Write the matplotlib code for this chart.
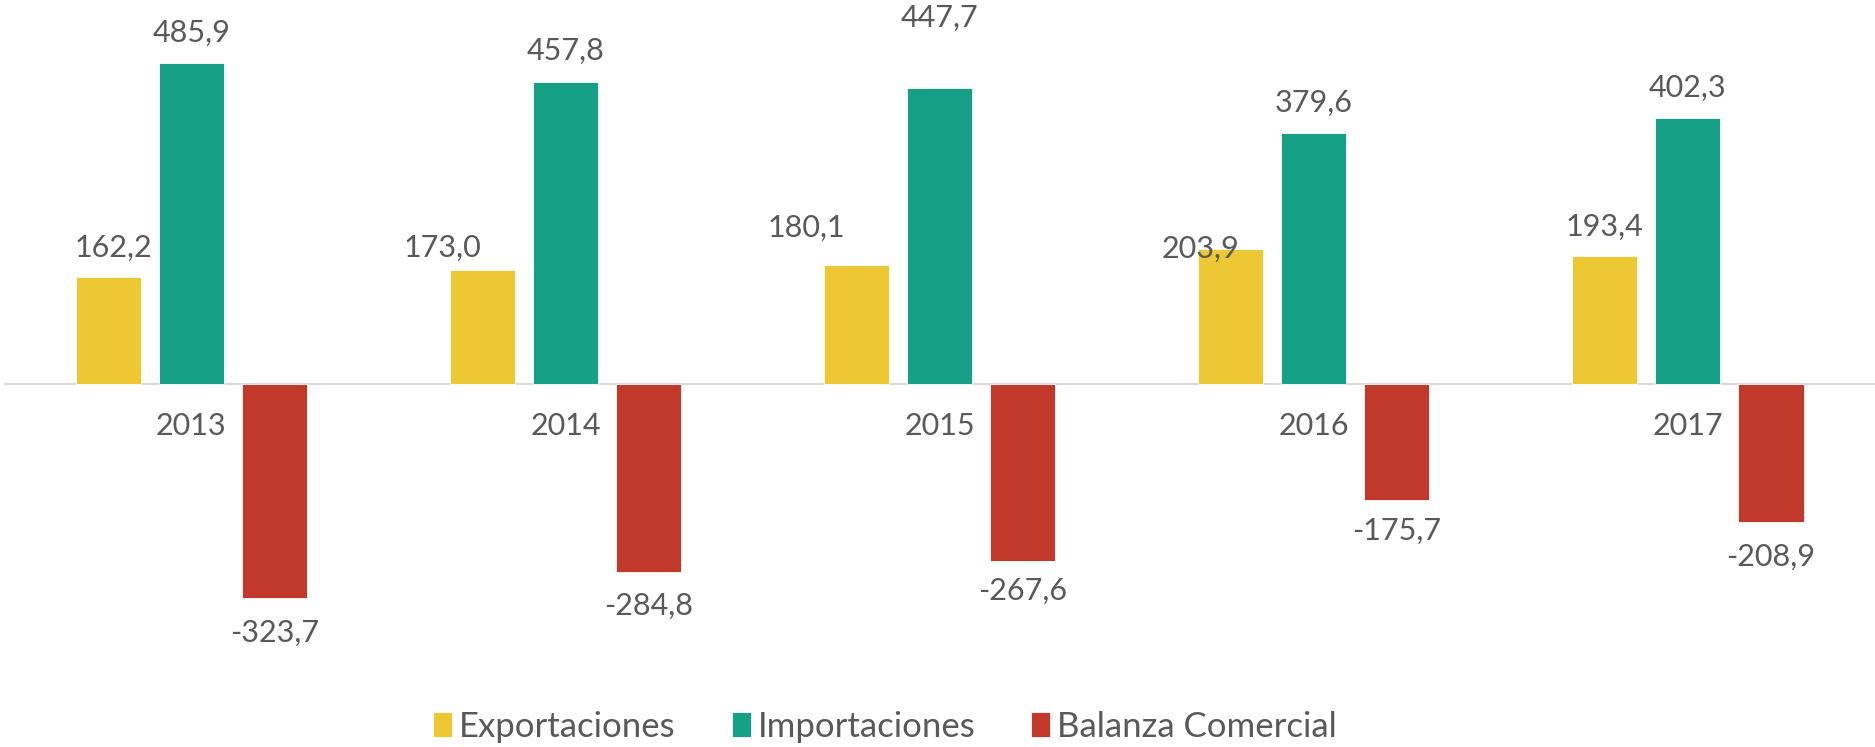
import numpy as np
import matplotlib
matplotlib.use("Agg")
import matplotlib.pyplot as plt

years = ["2013", "2014", "2015", "2016", "2017"]
exportaciones = [162.2, 173.0, 180.1, 203.9, 193.4]
importaciones = [485.9, 457.8, 447.7, 379.6, 402.3]
balanza = [-323.7, -284.8, -267.6, -175.7, -208.9]

series_names = ["Exportaciones", "Importaciones", "Balanza Comercial"]
colors = ["#EEC734", "#16A086", "#C0392B"]
text_color = "#595959"

# label offsets in points (dx, dy), mimicking manual tweaks in the original
label_offsets = [
    [(4, 21), (-29, 16), (-36, 27), (-22, 0), (0, 21)],
    [(0, 22), (0, 22), (0, 51), (0, 22), (0, 22)],
    [(0, -25), (0, -24), (0, -22), (0, -22), (0, -25)],
]

plt.rcParams["font.family"] = ["Lato", "DejaVu Sans"]

fig = plt.figure(figsize=(18.75, 7.47), dpi=100)
ax = fig.add_axes([0.0022, 0.13, 0.9978, 0.87])

x = np.arange(len(years))
width = 0.174
step = 0.222

for i, (vals, name, col) in enumerate(zip([exportaciones, importaciones, balanza],
                                          series_names, colors)):
    xs = x + (i - 1) * step
    ax.bar(xs, vals, width=width, color=col, label=name,
           edgecolor="white", linewidth=0.6)
    for j, v in enumerate(vals):
        dx, dy = label_offsets[i][j]
        ax.annotate(f"{v:.1f}".replace(".", ","), (xs[j], v),
                    xytext=(dx, dy), textcoords="offset points",
                    ha="center", va="center", fontsize=22, color=text_color)

ax.axhline(0, color="#D9D9D9", lw=1.5, zorder=0)
ax.set_xlim(-0.5, len(years) - 0.5)
ax.set_ylim(-402.7, 581.3)
ax.set_xticks([])
ax.set_yticks([])
for s in ax.spines.values():
    s.set_visible(False)

# year labels sit just below the zero line
for xi, yr in zip(x, years):
    ax.annotate(yr, (xi, 0), xytext=(0, -30), textcoords="offset points",
                ha="center", va="center", fontsize=22, color=text_color)

fig.legend(loc="center", bbox_to_anchor=(0.472, 0.027), ncol=3, frameon=False,
           fontsize=25, labelcolor=text_color, handlelength=0.55,
           handleheight=0.75, handletextpad=0.2, columnspacing=1.6)

fig.savefig("out.png", dpi=100)
